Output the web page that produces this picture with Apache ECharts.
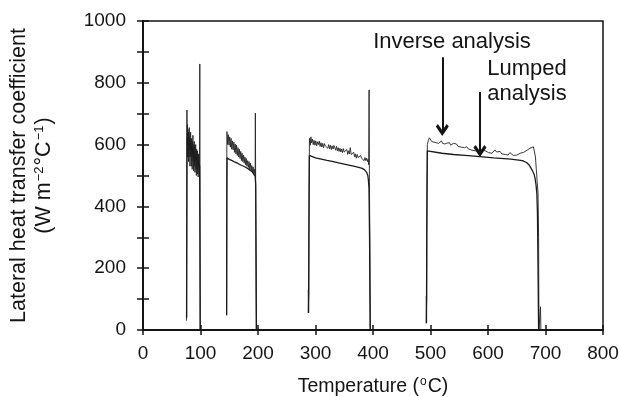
<!DOCTYPE html>
<html>
<head>
<meta charset="utf-8">
<script src="https://cdn.jsdelivr.net/npm/echarts@6/dist/echarts.min.js"></script>
<style>html,body{margin:0;padding:0;background:#fff;}#c{width:620px;height:397px;}</style>
</head>
<body>
<div id="c"></div>
<script>
// Temperature (°C) / heat transfer coefficient (W m^-2 °C^-1); null marks a gap between quench runs
const inverseT = [
  75.5,76,76.4,76.8,77.2,77.6,78,78.4,78.8,79.2,79.6,80,80.4,80.8,81.2,81.6,82,82.4,82.8,83.2,83.6,84,84.4,84.8,85.2,85.6,86,86.4,86.8,87.2,87.6,88,88.4,88.8,89.2,89.6,90,90.4,90.8,91.2,91.6,92,92.4,92.8,93.2,93.6,94,94.4,94.8,95.2,95.6,96,96.4,96.8,97.2,97.6,98.3,98.8,99.1,99.5,
  null,
  145.3,145.5,145.8,146,147.2,148.4,149.6,150.8,152,153.2,154.4,155.6,156.8,158,159.2,160.4,161.6,162.8,164,165.2,166.4,167.6,168.8,170,171.2,172.4,173.6,174.8,176,177.2,178.4,179.6,180.8,182,183.2,184.4,185.6,186.8,188,189.2,190.4,191.6,192.8,194,195,195.4,195.9,196.6,197.2,
  null,
  287.3,287.6,287.9,288.3,288.8,289.5,291,292,293,294.5,296,297.5,299,300.5,302,303.5,305,306.5,308,309.5,311,312.5,314,315.5,317,318.5,320,321.5,323,324.5,326,327.5,329,330.5,332,333.5,335,336.5,338,339.5,341,342.5,344,345.5,347,348.5,350,351.5,353,354.5,356,357.5,359,360.5,362,363.5,365,366.5,368,369.5,371,372.5,374,375.5,377,378.5,380,381.5,383,384.5,386,387.5,389,390.5,391.5,392.5,393.2,393.8,394.5,395.5,
  null,
  492.5,492.8,493.1,493.4,493.8,494.5,496,498,500,502,504,506,508,510,512,514,516.5,519,521,523,525,527,529,531,533,535,537,540,542,545,548,550,553,556,559,563,566,569,572,575,578,581,584,586,589,592,595,598,601,604,607,609,612,615,618,621,624,627,630,632.5,635,638,641,644,647,650,653,656,659,662,665,668,671,673,676,679,681,682.5,684,685.5,687,688,688.6,690.5,691.3,692
];
const inverseH = [
  30,420,712,600,665,560,650,575,640,545,630,560,655,580,620,530,610,560,640,570,600,530,620,550,595,520,610,560,630,545,590,515,600,540,610,530,580,510,590,545,600,520,575,500,585,530,570,505,580,520,560,495,570,530,560,510,545,861,560,0,
  null,
  48,200,600,642,600,632,598,625,592,620,585,612,583,608,575,602,570,598,565,590,560,585,555,578,548,572,545,566,540,560,535,555,530,548,526,545,520,540,515,532,512,528,505,520,500,702,480,150,0,
  null,
  55,130,95,120,450,620,598,625,606,618,600,614,598,612,596,609,600,611,594,606,592,604,590,603,596,590,602,588,600,586,598,584,596,586,597,590,582,594,580,590,578,588,576,586,574,587,576,582,572,584,568,580,570,590,568,574,562,575,560,570,556,568,558,564,552,565,556,552,562,548,558,548,556,545,552,535,777,480,300,0,
  null,
  22,110,80,100,450,600,612,622,618,610,615,608,614,606,612,604,609,612,604,610,602,608,605,600,606,598,604,604,598,602,594,600,592,597,590,593,586,590,582,587,580,584,578,575,582,576,580,585,574,578,572,577,583,576,572,578,570,575,568,572,566,574,568,565,570,566,568,572,570,575,578,582,586,588,592,593,588,560,520,480,443,300,0,0,75,0
];
const lumpedT = [
  76,76.6,78,80,82,85,88,91,94,97,98.5,99,99.5,
  null,
  145.5,145.8,146.2,150,155,160,165,170,175,180,185,190,193,195,196,196.8,197.2,
  null,
  288,288.5,289.3,291.6,300,310,320,331,340,350,360,370,380,385,389,391,392,393,394,395,
  null,
  493,493.5,494.5,496,520,540,560,586,610,640,660,667,672,676,680,682,683.5,685,686,687,688
];
const lumpedH = [
  40,600,640,615,600,585,570,560,550,540,530,300,0,
  null,
  48,400,557,552,548,543,539,534,530,525,519,512,506,498,470,200,0,
  null,
  55,300,565,561,557,553,549,545,541,537,533,529,524,519,510,500,485,460,300,0,
  null,
  22,300,580,577,572,568,565,561,557,553,548,542,533,520,505,490,470,440,380,200,0
];
const xTicks = {min: 0, max: 800, step: 100};
const yTicks = {min: 0, max: 1000, step: 100, labelStep: 200};
// annotation arrows: [temperature, from h, to h]
const inverseArrow = [520.5, 883, 647];
const lumpedArrow = [586, 770, 579];

function pairs(T, H) {
  return T.map((t, i) => (t === null ? ['-', '-'] : [t, H[i]]));
}

const FONT = 'Liberation Sans, Arial, Helvetica, sans-serif';
const INK = '#141414';

const chart = echarts.init(document.getElementById('c'), null, {renderer: 'canvas'});
const arrowHead = 'path://M5,0 L10,8 L8.4,10 L5,4.8 L1.6,10 L0,8 Z';

const baseX = {type: 'value', min: xTicks.min, max: xTicks.max, interval: xTicks.step, splitLine: {show: false}};
const baseY = {type: 'value', min: yTicks.min, max: yTicks.max, interval: yTicks.step, splitLine: {show: false}};

chart.setOption({
  animation: false,
  backgroundColor: '#fff',
  grid: {left: 143, right: 17, top: 21, bottom: 67, outerBoundsMode: 'none', containLabel: false,
    show: true, borderColor: INK, borderWidth: 1.5, backgroundColor: 'transparent'},
  xAxis: [
    Object.assign({}, baseX, {
      position: 'bottom',
      name: 'Temperature ({sup|o}C)',
      nameLocation: 'middle',
      nameGap: 46,
      nameTextStyle: {fontFamily: FONT, fontSize: 19.5, color: INK, rich: {sup: {fontFamily: FONT, fontSize: 12, color: INK, padding: [0, 1, 9, 1]}}},
      axisLine: {show: true, lineStyle: {color: INK, width: 2}},
      axisTick: {show: true, inside: false, length: 5, lineStyle: {color: INK, width: 1.5}},
      axisLabel: {fontFamily: FONT, fontSize: 19, color: INK, margin: 14}
    }),
    Object.assign({}, baseX, {
      position: 'bottom',
      axisLine: {show: false},
      axisTick: {show: true, inside: true, length: 5, lineStyle: {color: INK, width: 1.5}},
      axisLabel: {show: false}
    })
  ],
  yAxis: [
    Object.assign({}, baseY, {
      position: 'left',
      name: 'Lateral heat transfer coefficient\n(W m{sup|\u22122}\u00B0C{sup|\u22121})',
      nameLocation: 'middle',
      nameRotate: 90,
      nameGap: 86,
      nameTextStyle: {fontFamily: FONT, fontSize: 21.5, color: INK, lineHeight: 25, align: 'center',
        rich: {sup: {fontFamily: FONT, fontSize: 13, color: INK, padding: [0, 1, 10, 1]}}},
      axisLine: {show: true, lineStyle: {color: INK, width: 2}},
      axisTick: {show: true, inside: false, length: 6, lineStyle: {color: INK, width: 1.5}},
      axisLabel: {fontFamily: FONT, fontSize: 19, color: INK, margin: 17,
        formatter: v => (v % yTicks.labelStep === 0 ? String(v) : '')}
    }),
    Object.assign({}, baseY, {
      position: 'left',
      axisLine: {show: false},
      axisTick: {show: true, inside: true, length: 6, lineStyle: {color: INK, width: 1.5}},
      axisLabel: {show: false}
    })
  ],
  series: [
    {
      name: 'Inverse analysis', type: 'line', xAxisIndex: 0, yAxisIndex: 0,
      data: pairs(inverseT, inverseH), showSymbol: false, symbol: 'none', connectNulls: false,
      lineStyle: {color: '#222', width: 0.9}, silent: true,
      markLine: {
        silent: true, symbol: ['none', arrowHead], symbolSize: [13, 12],
        label: {show: false}, lineStyle: {color: INK, width: 2, type: 'solid'},
        data: [
          [{coord: [inverseArrow[0], inverseArrow[1]]}, {coord: [inverseArrow[0], inverseArrow[2]]}],
          [{coord: [lumpedArrow[0], lumpedArrow[1]]}, {coord: [lumpedArrow[0], lumpedArrow[2]]}]
        ]
      }
    },
    {
      name: 'Lumped analysis', type: 'line', xAxisIndex: 0, yAxisIndex: 0,
      data: pairs(lumpedT, lumpedH), showSymbol: false, symbol: 'none', connectNulls: false,
      lineStyle: {color: '#1a1a1a', width: 1.3}, silent: true
    }
  ],
  graphic: [
    {type: 'text', silent: true, style: {x: 452, y: 42, text: 'Inverse analysis', fontFamily: FONT, fontSize: 22, fill: INK, textAlign: 'center', textVerticalAlign: 'middle'}},
    {type: 'text', silent: true, style: {x: 527, y: 69, text: 'Lumped', fontFamily: FONT, fontSize: 22, fill: INK, textAlign: 'center', textVerticalAlign: 'middle'}},
    {type: 'text', silent: true, style: {x: 527, y: 94, text: 'analysis', fontFamily: FONT, fontSize: 22, fill: INK, textAlign: 'center', textVerticalAlign: 'middle'}}
  ]
});
</script>
</body>
</html>
